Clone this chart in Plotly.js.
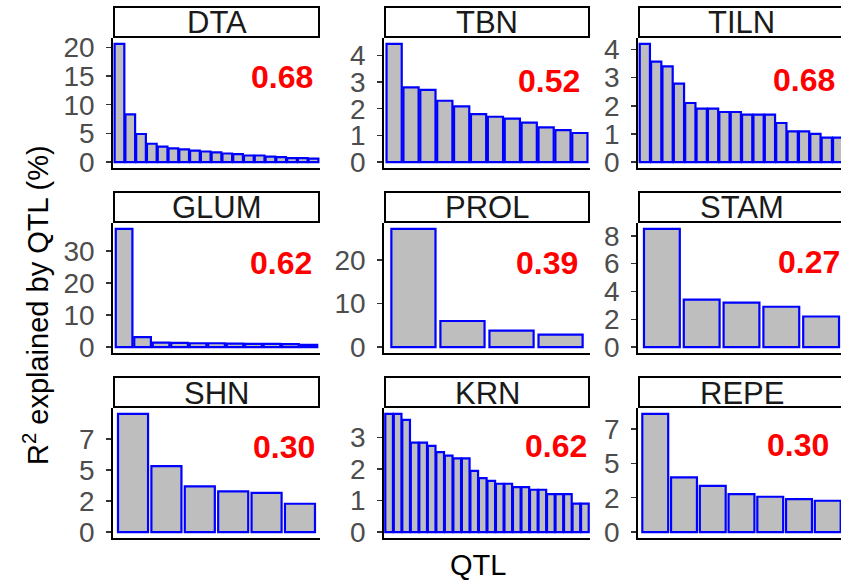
<!DOCTYPE html>
<html>
<head>
<meta charset="utf-8">
<script src="https://cdn.plot.ly/plotly-3.0.1.min.js"></script>
<style>
html, body { margin:0; padding:0; overflow:hidden; background:#fff; }
#chart { width:846px; height:582px; }
</style>
</head>
<body>
<div id="chart"></div>
<script>
// ---- data ----
const traits = ["DTA","TBN","TILN","GLUM","PROL","STAM","SHN","KRN","REPE"];
const dta  = [20.6, 8.3, 4.9, 3.2, 2.7, 2.4, 2.2, 2.0, 1.85, 1.7, 1.5, 1.4, 1.15, 1.15, 0.95, 0.85, 0.7, 0.7, 0.6];
const tbn  = [4.43, 2.8, 2.71, 2.3, 2.09, 1.8, 1.7, 1.63, 1.48, 1.3, 1.2, 1.09];
const tiln = [4.2, 3.57, 3.4, 2.79, 2.1, 1.9, 1.9, 1.78, 1.78, 1.69, 1.69, 1.69, 1.39, 1.09, 1.09, 1.0, 0.87, 0.87];
const glum = [36.8, 3.1, 1.4, 1.3, 1.2, 1.2, 1.1, 1.0, 1.0, 0.9, 0.7];
const prol = [27.2, 6.0, 3.8, 2.85];
const stam = [8.5, 3.42, 3.2, 2.9, 2.2];
const shn  = [9.5, 5.3, 3.68, 3.28, 3.15, 2.28];
const krn  = [3.74, 3.74, 3.55, 2.83, 2.83, 2.73, 2.53, 2.42, 2.33, 2.33, 1.94, 1.71, 1.62, 1.53, 1.53, 1.42, 1.42, 1.34, 1.34, 1.2, 1.2, 1.2, 0.9, 0.9];
const repe = [8.6, 3.98, 3.37, 2.77, 2.57, 2.4, 2.28];
const r2Labels = ["0.68","0.52","0.68","0.62","0.39","0.27","0.30","0.62","0.30"];
const tickVals = [[0,5,10,15,20],[0,1,2,3,4],[0,1,2,3,4],[0,10,20,30],[0,10,20],[0,2,4,6,8],[0,2.5,5,7.5],[0,1,2,3],[0,2.5,5,7.5]];
const tickText = [["0","5","10","15","20"],["0","1","2","3","4"],["0","1","2","3","4"],["0","10","20","30"],["0","10","20"],["0","2","4","6","8"],["0","2","5","7"],["0","1","2","3"],["0","2","5","7"]];
const series = [dta, tbn, tiln, glum, prol, stam, shn, krn, repe];

// ---- layout geometry (pixels) ----
const W = 846, H = 582;
const colLeft = [113, 384, 638];
const colWidth = [207, 206, 207];
const rowTop = [38, 223, 408];
const plotH = 130;
const stripH = 30;
// label placement inside each panel (axis-domain fractions)
const labelPos = [[0.816,0.70],[0.80,0.67],[0.80,0.68],[0.814,0.69],[0.79,0.69],[0.824,0.70],[0.824,0.70],[0.835,0.71],[0.775,0.715]];

const FONT = "Liberation Sans, Arial, Helvetica, sans-serif";
const data = [];
const layout = {
  width: W, height: H,
  margin: {l:0, r:0, t:0, b:0},
  paper_bgcolor: "#fff", plot_bgcolor: "#fff",
  showlegend: false,
  bargap: 0.1,
  font: {family: FONT},
  annotations: [], shapes: []
};

series.forEach((vals, i) => {
  const r = Math.floor(i / 3), c = i % 3;
  const k = i + 1;
  const xa = "xaxis" + (k === 1 ? "" : k), ya = "yaxis" + (k === 1 ? "" : k);
  const xr = "x" + (k === 1 ? "" : k), yr = "y" + (k === 1 ? "" : k);
  const n = vals.length;
  const xs = vals.map((_, j) => j + 1);
  data.push({
    type: "bar", x: xs, y: vals, xaxis: xr, yaxis: yr,
    marker: {color: "#BEBEBE", line: {color: "#0000FF", width: 2.2}},
    hoverinfo: "y"
  });
  const x0 = colLeft[c] / W, x1 = (colLeft[c] + colWidth[c]) / W;
  const yTop = 1 - rowTop[r] / H, yBot = 1 - (rowTop[r] + plotH) / H;
  const maxV = Math.max(...vals);
  layout[xa] = {
    domain: [x0, x1], anchor: yr, range: [0.4, n + 0.6],
    showticklabels: false, ticks: "", showgrid: false, zeroline: false,
    showline: true, linecolor: "#000", linewidth: 1.8, fixedrange: true
  };
  layout[ya] = {
    domain: [yBot, yTop], anchor: xr, range: [-0.05 * maxV, 1.05 * maxV],
    tickvals: tickVals[i], ticktext: tickText[i],
    ticks: "outside", ticklen: 5, tickwidth: 1.5, tickcolor: "#333333",
    ticklabelstandoff: 6,
    tickfont: {family: FONT, size: 28, color: "#4D4D4D"},
    showgrid: false, zeroline: false,
    showline: true, linecolor: "#000", linewidth: 1.8, fixedrange: true
  };
  // strip
  const sTop = 1 - (rowTop[r] - stripH - 1) / H, sBot = 1 - (rowTop[r] - 1) / H;
  layout.shapes.push({
    type: "rect", xref: "paper", yref: "paper",
    x0: (colLeft[c] + 1) / W, x1: (colLeft[c] + colWidth[c] - 1) / W, y0: sBot, y1: sTop,
    line: {color: "#000", width: 2}, fillcolor: "#fff", layer: "above"
  });
  layout.annotations.push({
    xref: "paper", yref: "paper",
    x: (colLeft[c] + colWidth[c] / 2) / W, y: (sTop + sBot) / 2 - 1 / H,
    xanchor: "center", yanchor: "middle", showarrow: false,
    text: traits[i], font: {family: FONT, size: 31, color: "#1A1A1A"}
  });
  // R2 label
  layout.annotations.push({
    xref: xr + " domain", yref: yr + " domain",
    x: labelPos[i][0], y: labelPos[i][1], xanchor: "center", yanchor: "middle",
    showarrow: false, text: "<b>" + r2Labels[i] + "</b>",
    font: {family: FONT, size: 32, color: "#FF0000"}
  });
});

// axis titles
layout.annotations.push({
  xref: "paper", yref: "paper", x: 36 / W, y: 1 - 305 / H,
  xanchor: "center", yanchor: "middle", textangle: -90, showarrow: false,
  text: "R<sup>2</sup> explained by QTL (%)", font: {family: FONT, size: 29, color: "#000"}
});
layout.annotations.push({
  xref: "paper", yref: "paper", x: 478 / W, y: 1 - 565 / H,
  xanchor: "center", yanchor: "middle", showarrow: false,
  text: "QTL", font: {family: FONT, size: 29, color: "#000"}
});

Plotly.newPlot("chart", data, layout, {displayModeBar: false, staticPlot: true});
</script>
</body>
</html>
